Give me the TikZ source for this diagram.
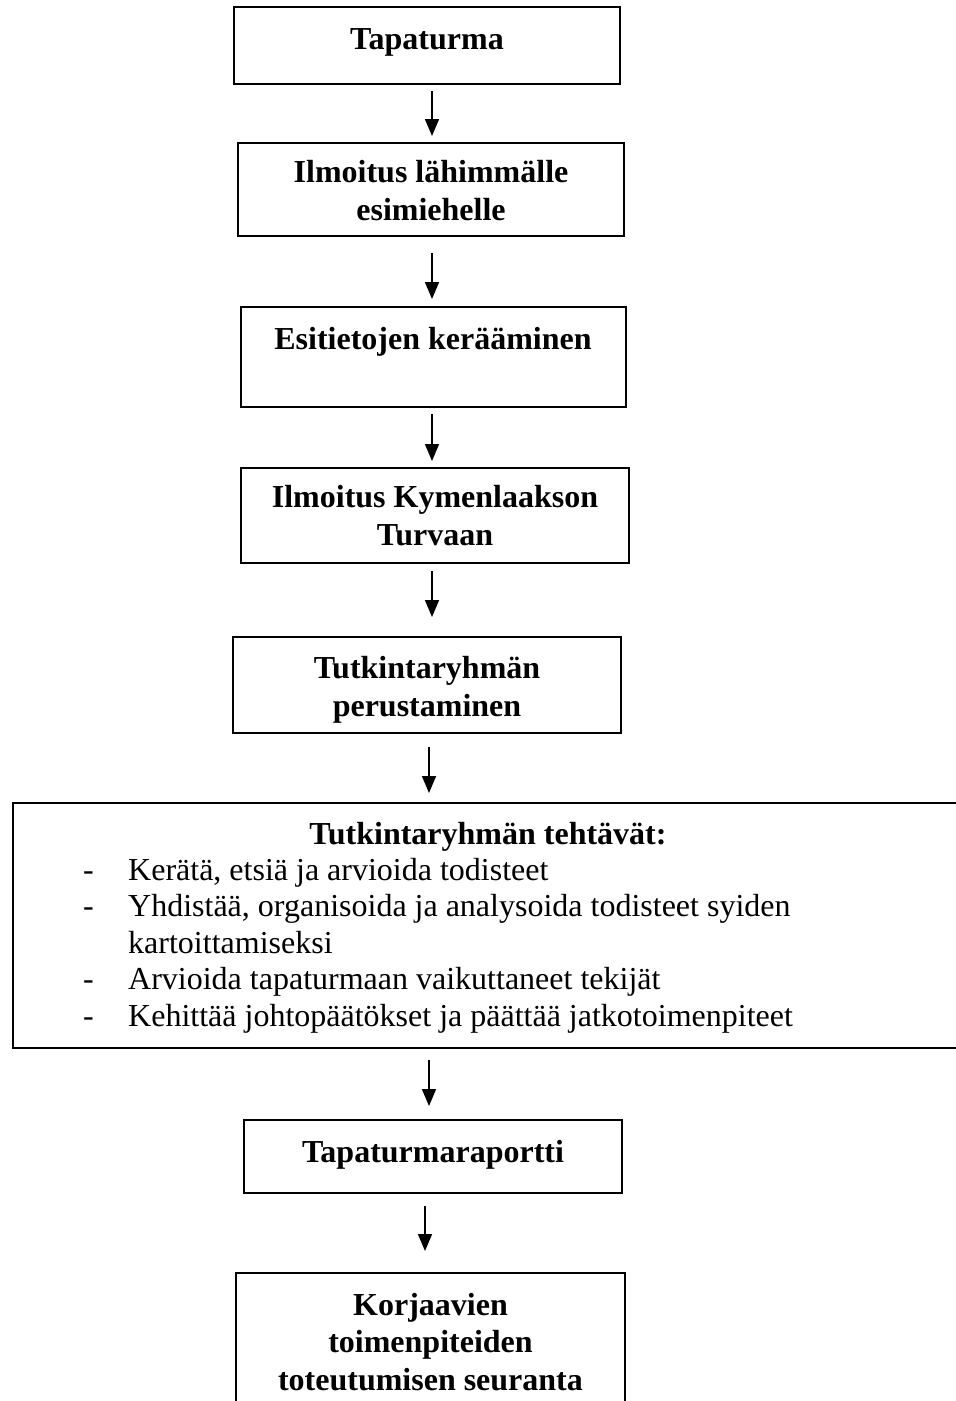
\documentclass[tikz,border=0pt]{standalone}
\usepackage{fontspec}
\setmainfont{Liberation Serif}
\usetikzlibrary{arrows.meta}
\tikzset{
  box/.style={draw, line width=2pt, inner sep=0pt},
  heading/.style={font=\fontsize{32}{37.5}\selectfont\bfseries, align=center, anchor=base, inner sep=0pt},
  itemtext/.style={font=\fontsize{32}{36.5}\selectfont, align=left, anchor=base west, inner sep=0pt},
  flow/.style={line width=1.6pt, -{Triangle[length=17pt,width=14pt]}},
}
\begin{document}
\begin{tikzpicture}[x=1pt,y=-1pt]
\useasboundingbox (0,0) rectangle (956,1401);
\clip (0,0) rectangle (956,1401);
\fill[white] (0,0) rectangle (956,1401);

% process boxes
\node[box, minimum width=386pt, minimum height=77pt]  (b1) at (427,45.5)   {};
\node[box, minimum width=386pt, minimum height=93pt]  (b2) at (431,189.5)  {};
\node[box, minimum width=385pt, minimum height=100pt] (b3) at (433.5,357)  {};
\node[box, minimum width=388pt, minimum height=95pt]  (b4) at (435,515.5)  {};
\node[box, minimum width=388pt, minimum height=96pt]  (b5) at (427,685)    {};
\node[box, minimum width=987pt, minimum height=245pt] (b6) at (506.5,925.5) {};
\node[box, minimum width=378pt, minimum height=73pt]  (b7) at (433,1156.5) {};
\node[box, minimum width=389pt, minimum height=157pt] (b8) at (430.5,1351.5) {};

% box texts (multi-line nodes sit on the baseline of their last line)
\node[heading] (t1) at (427,49)   {Tapaturma};
\node[heading] (t2) at (431,220)  {Ilmoitus lähimmälle\\esimiehelle};
\node[heading] (t3) at (433,349)  {Esitietojen kerääminen};
\node[heading] (t4) at (435,545)  {Ilmoitus Kymenlaakson\\Turvaan};
\node[heading] (t5) at (427,716)  {Tutkintaryhmän\\perustaminen};
\node[heading] (t6) at (488,844)  {Tutkintaryhmän tehtävät:};
\node[itemtext] (l6) at (83,1026) {%
  \makebox[45pt][l]{-}Kerätä, etsiä ja arvioida todisteet\\
  \makebox[45pt][l]{-}Yhdistää, organisoida ja analysoida todisteet syiden\\
  \hspace*{45pt}kartoittamiseksi\\
  \makebox[45pt][l]{-}Arvioida tapaturmaan vaikuttaneet tekijät\\
  \makebox[45pt][l]{-}Kehittää johtopäätökset ja päättää jatkotoimenpiteet};
\node[heading] (t7) at (433,1162) {Tapaturmaraportti};
\node[heading] (t8) at (430.5,1390) {Korjaavien\\toimenpiteiden\\toteutumisen seuranta};

% arrow columns
\coordinate (s1) at (432,0);
\coordinate (s5) at (429,0);
\coordinate (s7) at (425,0);

% connectors
\draw[flow, shorten <=6pt,  shorten >=6pt]  (b1.south -| s1) -- (b2.north -| s1);
\draw[flow, shorten <=16pt, shorten >=7pt]  (b2.south -| s1) -- (b3.north -| s1);
\draw[flow, shorten <=6pt,  shorten >=6pt]  (b3.south -| s1) -- (b4.north -| s1);
\draw[flow, shorten <=7pt,  shorten >=19pt] (b4.south -| s1) -- (b5.north -| s1);
\draw[flow, shorten <=13pt, shorten >=9pt]  (b5.south -| s5) -- (b6.north -| s5);
\draw[flow, shorten <=11pt, shorten >=13pt] (b6.south -| s5) -- (b7.north -| s5);
\draw[flow, shorten <=12pt, shorten >=21pt] (b7.south -| s7) -- (b8.north -| s7);
\end{tikzpicture}
\end{document}
